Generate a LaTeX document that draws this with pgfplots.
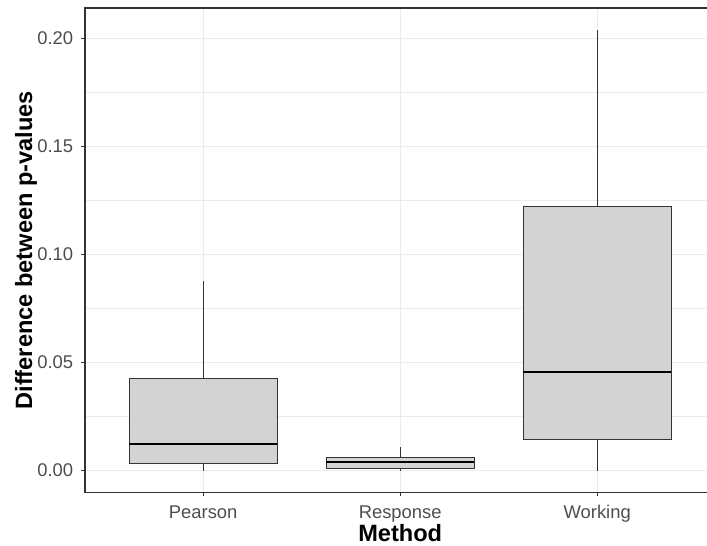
\documentclass[border=0pt]{standalone}
\usepackage{pgfplots}
\pgfplotsset{compat=1.18}
\usepackage{fontspec}
\setmainfont{Liberation Sans}
\definecolor{gray20}{HTML}{333333}
\definecolor{gray30}{HTML}{4D4D4D}
\definecolor{gray92}{HTML}{EBEBEB}
\definecolor{boxfill}{HTML}{D3D3D3}
\begin{document}
\begin{tikzpicture}
\begin{axis}[
  scale only axis,
  width=630.4pt, height=484.5pt,
  xmin=0.4, xmax=3.6, ymin=-0.0101, ymax=0.2139,
  xtick={1,2,3}, xticklabels={Pearson,Response,Working},
  ytick={0,0.05,0.1,0.15,0.2},
  yticklabels={0.00,0.05,0.10,0.15,0.20},
  minor ytick={0.025,0.075,0.125,0.175},
  xmajorgrids, ymajorgrids, yminorgrids,
  major grid style={gray92, line width=1.07pt},
  minor grid style={gray92, line width=0.53pt},
  axis line style={gray20, line width=1.07pt},
  tick align=outside, tick pos=left,
  major tick length=3.7pt, minor tick length=0pt,
  major tick style={gray20, line width=1.07pt},
  ticklabel style={font=\fontsize{18.4}{22}\selectfont, text=gray30, inner sep=0pt},
  xticklabel style={anchor=base, yshift=-22pt},
  yticklabel style={anchor=east, xshift=-8pt},
  xlabel={Method},
  ylabel={Difference between p-values},
  label style={font=\bfseries\fontsize{23.6}{28}\selectfont, inner sep=0pt},
  xlabel style={at={(axis description cs:0.5,0)}, anchor=base, yshift=-49.5pt},
  ylabel style={at={(axis description cs:0,0.5)}, anchor=center, yshift=59pt},
]
% Pearson: lower whisker 0, Q1 0.0032, median 0.0124, Q3 0.0427, upper whisker 0.0877
\addplot[gray20, line width=1.1pt] coordinates {(1,0.0) (1,0.0032)};
\addplot[gray20, line width=1.1pt] coordinates {(1,0.0427) (1,0.0877)};
\addplot[draw=gray20, fill=boxfill, line width=1.1pt] coordinates {(0.625,0.0032) (1.375,0.0032) (1.375,0.0427) (0.625,0.0427)} -- cycle;
\addplot[black, line width=2.2pt] coordinates {(0.625,0.0124) (1.375,0.0124)};
% Response: lower whisker 0, Q1 0.0011, median 0.0039, Q3 0.0060, upper whisker 0.0110
\addplot[gray20, line width=1.1pt] coordinates {(2,0.0) (2,0.0011)};
\addplot[gray20, line width=1.1pt] coordinates {(2,0.0060) (2,0.0110)};
\addplot[draw=gray20, fill=boxfill, line width=1.1pt] coordinates {(1.625,0.0011) (2.375,0.0011) (2.375,0.0060) (1.625,0.0060)} -- cycle;
\addplot[black, line width=2.2pt] coordinates {(1.625,0.0039) (2.375,0.0039)};
% Working: lower whisker 0, Q1 0.0144, median 0.0455, Q3 0.1223, upper whisker 0.2038
\addplot[gray20, line width=1.1pt] coordinates {(3,0.0) (3,0.0144)};
\addplot[gray20, line width=1.1pt] coordinates {(3,0.1223) (3,0.2038)};
\addplot[draw=gray20, fill=boxfill, line width=1.1pt] coordinates {(2.625,0.0144) (3.375,0.0144) (3.375,0.1223) (2.625,0.1223)} -- cycle;
\addplot[black, line width=2.2pt] coordinates {(2.625,0.0455) (3.375,0.0455)};
\end{axis}
\pgfresetboundingbox
\useasboundingbox ([xshift=-85pt,yshift=-53.5pt]current axis.south west) rectangle ([xshift=622pt,yshift=8pt]current axis.north west);
\end{tikzpicture}
\end{document}
